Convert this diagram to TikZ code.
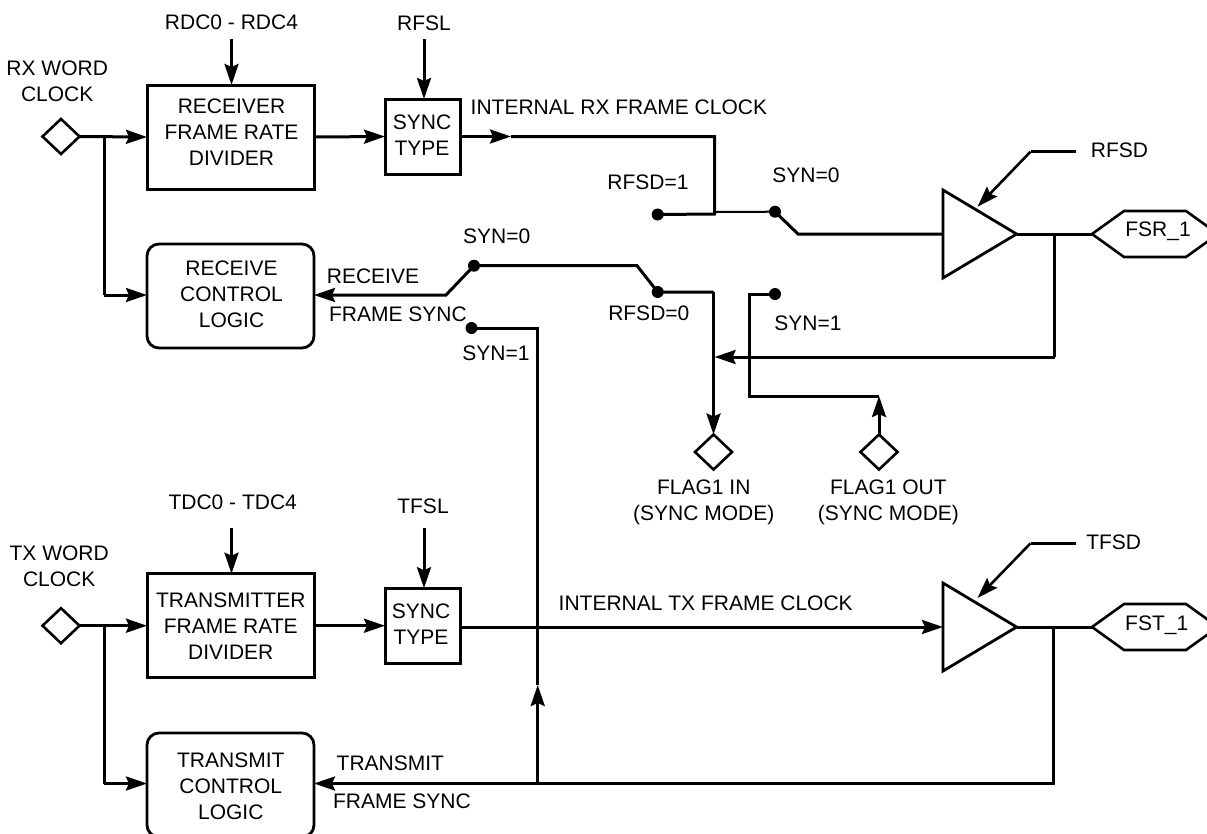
\documentclass[tikz,border=0pt]{standalone}
\usepackage{fontspec}
\setmainfont{Liberation Sans}
\usetikzlibrary{arrows.meta,shapes.geometric,shapes.symbols}
\tikzset{
  wire/.style={line width=3pt,line join=miter,line cap=butt},
  arr/.style={wire,-{Stealth[length=21pt,width=14pt,inset=3pt]}},
  sqbox/.style={draw,rectangle,line width=3pt,inner sep=0pt,outer sep=0pt},
  ctl/.style={draw,rectangle,rounded corners=12pt,line width=2.8pt,inner sep=0pt,outer sep=0pt,minimum width=167pt},
  port/.style={draw,diamond,line width=2.6pt,inner sep=0pt,outer sep=0pt,minimum width=37pt,minimum height=35pt,aspect=1.06},
  dotn/.style={circle,fill=black,inner sep=0pt,outer sep=0pt,minimum size=12pt},
  buf/.style={draw,isosceles triangle,isosceles triangle stretches,shape border rotate=0,line width=2.8pt,inner sep=0pt,outer sep=0pt,minimum height=73.6pt,minimum width=88pt,anchor=lower side},
  hexn/.style={draw,signal,signal to=east and west,signal pointer angle=71.4,line width=2.6pt,inner sep=0pt,outer sep=0pt,minimum width=126pt,minimum height=46pt},
  txt/.style={align=center,font=\fontsize{21}{26}\selectfont,inner sep=0pt,outer sep=0pt}
}
\begin{document}
\begin{tikzpicture}[x=1pt,y=-1pt]
\useasboundingbox (0,0) rectangle (1207,833);
% ---------- receive side: blocks
\node[port] (dr) at (61,136.5) {};
\node[sqbox,minimum width=167pt,minimum height=104pt] (rdiv) at (230.5,137) {};
\node[sqbox,minimum width=75pt,minimum height=75pt] (rsync) at (422.5,136.5) {};
\node[ctl,minimum height=104pt] (rctl) at (230.5,296) {};
\node[buf] (rbuf) at (943,234) {};
\node[hexn] (rhex) at (1155,234) {};
\node[port] (fin) at (713.5,452) {};
\node[port] (fout) at (879,452) {};
\node[dotn] (d1) at (657.7,214.5) {};
\node[dotn] (d2) at (775,211.7) {};
\node[dotn] (d3) at (474,265.7) {};
\node[dotn] (d4) at (657.7,292) {};
\node[dotn] (d5) at (471.5,328) {};
\node[dotn] (d6) at (775,294) {};
\coordinate (rdcs) at (231.5,39);
\coordinate (rfsls) at (424,39);
\coordinate (rbr) at (104,136.5);
\coordinate (rctlin) at (104,295);
\coordinate (mid) at (511,136.5);
\coordinate (jr) at (714.6,136.5);
\coordinate (ja) at (714.6,214);
\coordinate (ja2) at (714.6,212);
\coordinate (sw1) at (798,234);
\coordinate (sw2) at (446,295);
\coordinate (sw3) at (637,265.7);
\coordinate (j5) at (537.7,328);
\coordinate (j4) at (713.5,292);
\coordinate (fb1) at (1054.5,234);
\coordinate (fb2) at (1054.5,357);
\coordinate (fb3) at (714.6,357);
\coordinate (j6) at (749.4,294);
\coordinate (j7) at (749.4,396);
\coordinate (j8) at (879,396);
\coordinate (rsa) at (1076,151.7);
\coordinate (rsb) at (1030.5,151.7);
\coordinate (rsc) at (977.5,206.7);
% ---------- transmit side: blocks
\node[port] (dt) at (61,625.7) {};
\node[sqbox,minimum width=167pt,minimum height=104pt] (tdiv) at (230.5,625.7) {};
\node[sqbox,minimum width=75pt,minimum height=75pt] (tsync) at (422.5,625.7) {};
\node[ctl,minimum height=104pt] (tctl) at (230.5,785) {};
\node[buf] (tbuf) at (943,627) {};
\node[hexn] (thex) at (1155,627) {};
\coordinate (tdcs) at (231.5,528);
\coordinate (tfsls) at (424,528);
\coordinate (tbr) at (104,625.7);
\coordinate (tctlin) at (104,783.5);
\coordinate (tsout) at (460,627);
\coordinate (fc1) at (1053,627);
\coordinate (fc2) at (1053,783.5);
\coordinate (fc3) at (537.7,783.5);
\coordinate (up) at (537.7,685);
\coordinate (tsa) at (1076,543.3);
\coordinate (tsb) at (1030.5,543.3);
\coordinate (tsc) at (977.5,598);
% ---------- receive connectors
\draw[arr] (rdcs) -- (rdcs |- rdiv.north);
\draw[arr] (rfsls) -- (rfsls |- rsync.north);
\draw[arr] (dr.east) -- (rdiv.west);
\draw[arr] (rdiv.east) -- (rsync.west);
\draw[wire] (rbr) -- (rctlin);
\draw[arr] (rctlin) -- (rctlin -| rctl.west);
\draw[arr] (rsync.east) -- (mid);
\draw[wire] (mid) -- (jr) -- (ja) -- (d1.center);
\draw[wire,line width=2pt] (ja2) -- (d2.center);
\draw[wire] (d2.center) -- (sw1) -- (rbuf.lower side);
\draw[wire] (rbuf.apex) -- (rhex.west);
\draw[wire] (fb1) -- (fb2);
\draw[arr] (fb2) -- (fb3);
\draw[wire] (d3.center) -- (sw3) -- (d4.center) -- (j4);
\draw[arr] (j4) -- (fin.north);
\draw[arr] (d3.center) -- (sw2) -- (sw2 -| rctl.east);
\draw[wire] (d5.center) -- (j5) -- (up);
\draw[wire] (d6.center) -- (j6) -- (j7) -- (j8);
\draw[arr] (fout.north) -- (j8);
\draw[wire,line width=2.6pt] (rsa) -- (rsb);
\draw[arr,line width=2.6pt] (rsb) -- (rsc);
% ---------- transmit connectors
\draw[arr] (tdcs) -- (tdcs |- tdiv.north);
\draw[arr] (tfsls) -- (tfsls |- tsync.north);
\draw[arr] (dt.east) -- (tdiv.west);
\draw[arr] (tdiv.east) -- (tsync.west);
\draw[wire] (tbr) -- (tctlin);
\draw[arr] (tctlin) -- (tctlin -| tctl.west);
\draw[arr] (tsout) -- (tbuf.lower side);
\draw[wire] (tbuf.apex) -- (thex.west);
\draw[wire] (fc1) -- (fc2) -- (fc3);
\draw[arr] (fc3) -- (fc3 -| tctl.east);
\draw[arr] (fc3) -- (up);
\draw[wire,line width=2.6pt] (tsa) -- (tsb);
\draw[arr,line width=2.6pt] (tsb) -- (tsc);
% ---------- labels
\node[txt] (l1) at (231.5,22.7) {RDC0 - RDC4};
\node[txt] (l2) at (424,23) {RFSL};
\node[txt] (l3) at (57.2,81) {RX WORD\\CLOCK};
\node[txt] (l4) at (231.5,132) {RECEIVER\\FRAME RATE\\DIVIDER};
\node[txt] (l5) at (422,134.7) {SYNC\\TYPE};
\node[txt,anchor=west] (l6) at (470.7,107.7) {INTERNAL RX FRAME CLOCK};
\node[txt] (l7) at (231.5,294.5) {RECEIVE\\CONTROL\\LOGIC};
\node[txt] (l8) at (373,276) {RECEIVE};
\node[txt] (l9) at (398,314) {FRAME SYNC};
\node[txt] (l10) at (496.7,236) {SYN=0};
\node[txt] (l11) at (496,353.3) {SYN=1};
\node[txt] (l12) at (648,182.7) {RFSD=1};
\node[txt] (l13) at (806,175) {SYN=0};
\node[txt] (l14) at (1119.5,150.7) {RFSD};
\node[txt] (l15) at (1158,231) {FSR\_1};
\node[txt] (l16) at (648.8,313.3) {RFSD=0};
\node[txt] (l17) at (808,323) {SYN=1};
\node[txt] (l18) at (703.8,502.7) {FLAG1 IN\\(SYNC MODE)};
\node[txt] (l19) at (888.4,502.7) {FLAG1 OUT\\(SYNC MODE)};
\node[txt] (l20) at (232.7,502.7) {TDC0 - TDC4};
\node[txt] (l21) at (423,506.7) {TFSL};
\node[txt] (l22) at (59.2,566.3) {TX WORD\\CLOCK};
\node[txt] (l23) at (230.8,626) {TRANSMITTER\\FRAME RATE\\DIVIDER};
\node[txt] (l24) at (421,624.3) {SYNC\\TYPE};
\node[txt,anchor=west] (l25) at (558.7,603.3) {INTERNAL TX FRAME CLOCK};
\node[txt] (l26) at (230.8,786) {TRANSMIT\\CONTROL\\LOGIC};
\node[txt] (l27) at (390.4,763.7) {TRANSMIT};
\node[txt] (l28) at (402,801.7) {FRAME SYNC};
\node[txt] (l29) at (1113.7,542.7) {TFSD};
\node[txt] (l30) at (1156.7,625.7) {FST\_1};
\end{tikzpicture}
\end{document}
